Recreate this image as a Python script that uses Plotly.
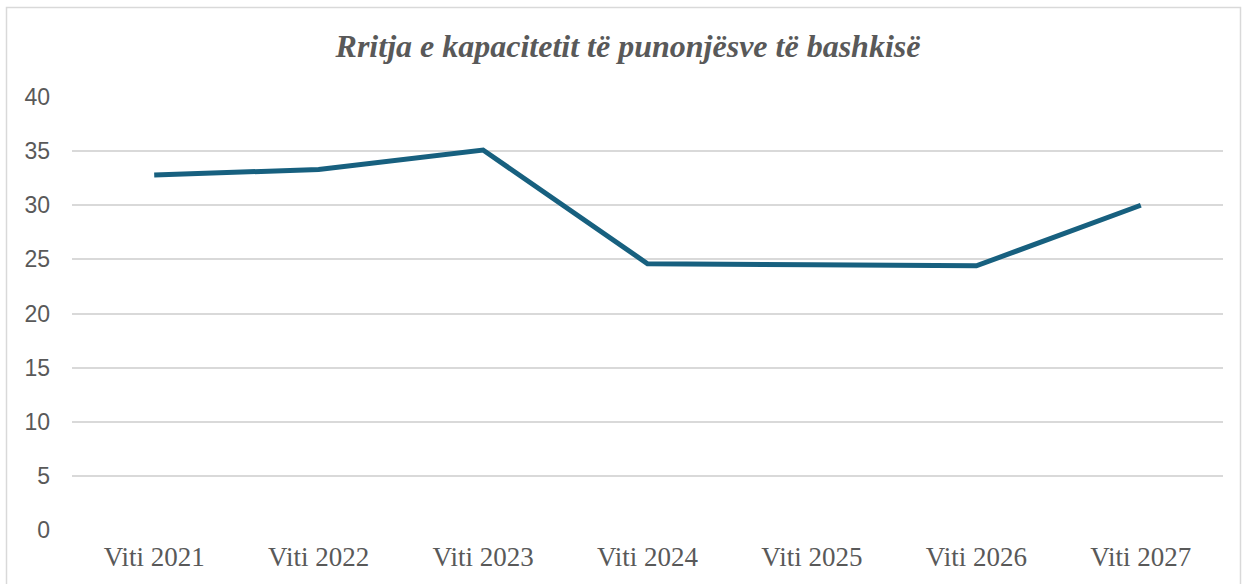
import plotly.graph_objects as go

categories = ["Viti 2021", "Viti 2022", "Viti 2023", "Viti 2024", "Viti 2025", "Viti 2026", "Viti 2027"]
values = [32.8, 33.3, 35.1, 24.6, 24.5, 24.4, 30.0]
y_ticks = [0, 5, 10, 15, 20, 25, 30, 35, 40]

W, H = 1244, 584
ML, MR, MT, MB = 72, 21, 97, 54
pw = W - ML - MR
ph = H - MT - MB

fig = go.Figure()
fig.add_trace(go.Scatter(
    x=categories, y=values, mode="lines",
    line=dict(color="#17607F", width=5),
    hoverinfo="x+y", showlegend=False,
))

# outer chart border (light grey frame)
bx0 = (6.5 - ML) / pw
bx1 = (1240.5 - ML) / pw
by1 = (H - MB - 7.5) / ph
by0 = (H - MB - 600) / ph
fig.add_shape(type="rect", xref="paper", yref="paper",
              x0=bx0, x1=bx1, y0=by0, y1=by1,
              line=dict(color="#D9D9D9", width=1.5), layer="below")

fig.update_layout(
    width=W, height=H,
    margin=dict(l=ML, r=MR, t=MT, b=MB),
    paper_bgcolor="white", plot_bgcolor="white",
    title=dict(
        text="<b><i>Rritja e kapacitetit të punonjësve të bashkisë</i></b>",
        x=(628 - ML) / pw, xref="paper", xanchor="center",
        y=1 - 46 / H, yanchor="middle",
        font=dict(family="Liberation Serif, Times New Roman, serif", size=32, color="#595959"),
    ),
    xaxis=dict(
        type="category", showgrid=False, showline=False, zeroline=False,
        ticks="", ticklabelstandoff=8,
        tickfont=dict(family="Liberation Serif, Times New Roman, serif", size=27, color="#595959"),
        range=[-0.5, len(categories) - 0.5], fixedrange=True,
    ),
    yaxis=dict(
        range=[0, 40], tickvals=y_ticks, showgrid=True, gridcolor="#D9D9D9", gridwidth=1.5,
        zeroline=False, showline=False, ticks="", ticklabelstandoff=21,
        tickfont=dict(family="Liberation Sans, Arial, sans-serif", size=23, color="#595959"),
        fixedrange=True,
    ),
)

fig.write_html("out.html")
